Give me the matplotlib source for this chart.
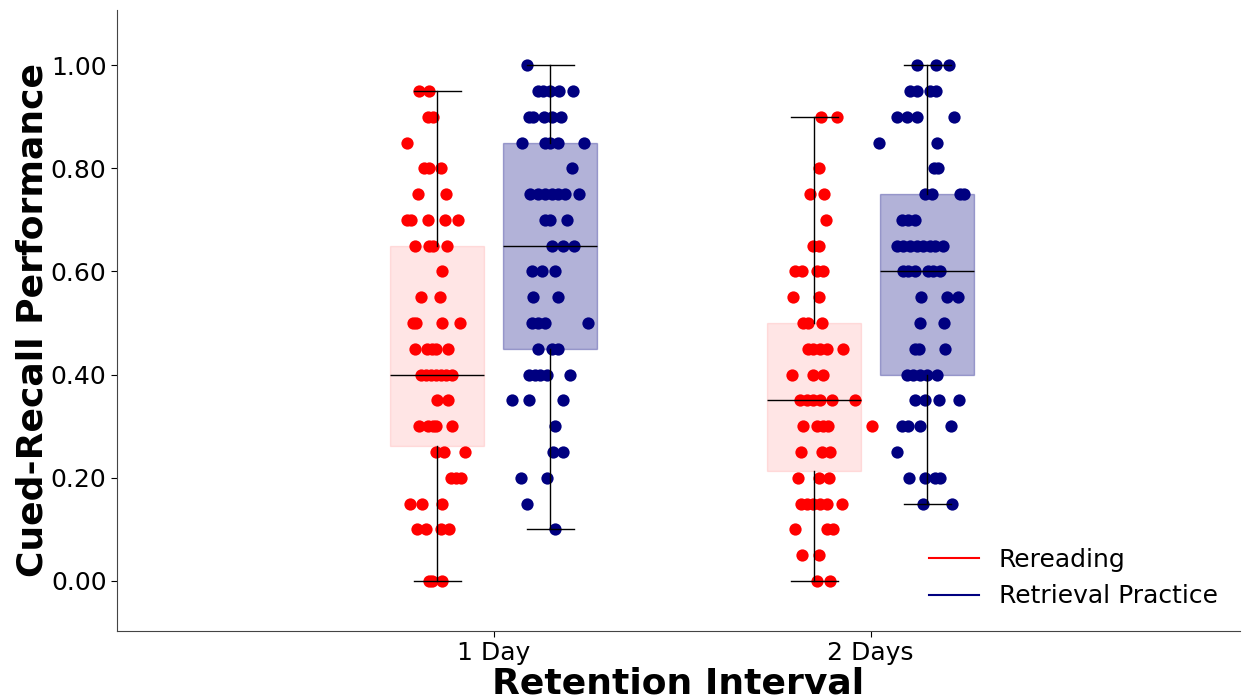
import matplotlib
matplotlib.use("Agg")
import matplotlib.pyplot as plt
from matplotlib.lines import Line2D

# ---------------- data ----------------
intervals = ["1 Day", "2 Days"]
conditions = ["Rereading", "Retrieval Practice"]

# individual scores
vals_1d_reread = ([0.95] * 2 + [0.90] * 2 + [0.85] + [0.80] * 3 + [0.75] * 2 + [0.70] * 5 + [0.65] * 4 +
                  [0.60] + [0.55] * 2 + [0.50] * 4 + [0.45] * 5 + [0.40] * 7 + [0.35] * 2 + [0.30] * 5 +
                  [0.25] * 3 + [0.20] * 3 + [0.15] * 3 + [0.10] * 4 + [0.00] * 3)
jit_1d_reread = [-0.048, -0.021, -0.024, -0.011, -0.080, -0.034, -0.021, 0.011, -0.050, 0.024,
                 -0.080, -0.069, -0.024, 0.021, 0.056, -0.058, -0.021, -0.011, 0.027, 0.013,
                 -0.042, 0.008, -0.064, -0.056, 0.013, 0.061, -0.058, -0.027, -0.013, -0.003, 0.029,
                 -0.042, -0.029, -0.016, -0.003, 0.011, 0.024, 0.040, 0.000, 0.029,
                 -0.048, -0.024, -0.011, -0.003, 0.040, -0.003, 0.019, 0.074, 0.037, 0.050, 0.064,
                 -0.072, -0.040, 0.013, -0.053, -0.029, 0.011, 0.032, -0.021, -0.013, 0.013]

vals_1d_retr = ([1.00] + [0.95] * 5 + [0.90] * 5 + [0.85] * 5 + [0.80] + [0.75] * 7 + [0.70] * 3 +
                [0.65] * 3 + [0.60] * 3 + [0.55] * 2 + [0.50] * 4 + [0.45] * 3 + [0.40] * 5 +
                [0.35] * 3 + [0.30] + [0.25] * 2 + [0.20] * 2 + [0.15] + [0.10])
jit_1d_retr = [-0.061, -0.034, -0.019, 0.000, 0.024, 0.061, -0.058, -0.045, -0.016, 0.005, 0.029,
               -0.074, -0.013, 0.000, 0.019, 0.090, 0.058, -0.053, -0.032, -0.013, 0.005, 0.021,
               0.040, 0.077, -0.013, 0.000, 0.045, 0.005, 0.034, 0.064, -0.048, -0.021, 0.013,
               -0.045, 0.021, -0.048, -0.034, -0.013, 0.101, -0.032, 0.005, 0.019,
               -0.056, -0.040, -0.027, -0.008, 0.053, -0.103, -0.056, 0.034, 0.011, 0.008, 0.034,
               -0.077, -0.008, -0.061, 0.011]

vals_2d_reread = ([0.90] * 2 + [0.80] + [0.75] * 2 + [0.70] + [0.65] * 2 + [0.60] * 4 + [0.55] * 2 +
                  [0.50] * 3 + [0.45] * 5 + [0.40] * 3 + [0.35] * 6 + [0.30] * 5 + [0.25] * 3 +
                  [0.20] * 3 + [0.15] * 6 + [0.10] * 3 + [0.05] * 2 + [0.00] * 2)
jit_2d_reread = [0.019, 0.061, 0.013, -0.011, 0.027, 0.032, -0.003, 0.013, -0.050, -0.032, 0.008, 0.024,
                 -0.056, 0.013, -0.029, -0.016, 0.021, -0.016, -0.003, 0.016, 0.034, 0.077,
                 -0.058, -0.003, 0.024, -0.037, -0.019, -0.003, 0.016, 0.048, 0.109,
                 -0.029, 0.008, 0.024, 0.037, 0.154, -0.034, 0.021, 0.042, -0.042, 0.013, 0.040,
                 -0.034, -0.019, -0.003, 0.016, 0.034, 0.074, -0.050, 0.034, 0.050, -0.032, 0.013,
                 0.008, 0.042]

vals_2d_retr = ([1.00] * 3 + [0.95] * 4 + [0.90] * 4 + [0.85] * 2 + [0.80] * 2 + [0.75] * 4 +
                [0.70] * 3 + [0.65] * 8 + [0.60] * 6 + [0.55] * 3 + [0.50] * 2 + [0.45] * 3 +
                [0.40] * 5 + [0.35] * 4 + [0.30] * 4 + [0.25] + [0.20] * 4 + [0.15] * 2)
jit_2d_retr = [-0.027, 0.024, 0.058, -0.045, -0.027, 0.008, 0.024, -0.080, -0.053, -0.027, 0.072,
               -0.127, 0.027, 0.019, 0.029, -0.005, 0.013, 0.088, 0.098, -0.066, -0.050, -0.032,
               -0.080, -0.064, -0.045, -0.027, -0.011, 0.008, 0.021, 0.042,
               -0.064, -0.050, -0.032, 0.003, 0.016, 0.034, -0.016, 0.053, 0.082, -0.019, 0.045,
               -0.032, -0.021, 0.048, -0.053, -0.037, -0.019, 0.000, 0.027,
               -0.032, -0.005, 0.032, 0.085, -0.066, -0.050, -0.019, 0.064, -0.080,
               -0.048, -0.005, 0.021, 0.034, -0.011, 0.066]

# box summary statistics
box_q1 = [0.2625, 0.45, 0.2125, 0.40]
box_med = [0.40, 0.65, 0.35, 0.60]
box_q3 = [0.65, 0.85, 0.50, 0.75]
box_lo = [0.00, 0.10, 0.00, 0.15]
box_hi = [0.95, 1.00, 0.90, 1.00]

yticks = [0.0, 0.2, 0.4, 0.6, 0.8, 1.0]

# ---------------- plot ----------------
fig = plt.figure(figsize=(12.43, 7.0), dpi=100)
ax = fig.add_axes([0.0941, 0.0986, 0.9035, 0.8871])

colors = ["red", "navy"]
face_alpha = [0.1, 0.3]
offsets = [-0.15, 0.15]
groups = [(vals_1d_reread, jit_1d_reread), (vals_1d_retr, jit_1d_retr),
          (vals_2d_reread, jit_2d_reread), (vals_2d_retr, jit_2d_retr)]

k = 0
for i, _ in enumerate(intervals):
    for j, _ in enumerate(conditions):
        pos = i + offsets[j]
        stats = [dict(med=box_med[k], q1=box_q1[k], q3=box_q3[k],
                      whislo=box_lo[k], whishi=box_hi[k], fliers=[])]
        bp = ax.bxp(stats, positions=[pos], widths=0.25, patch_artist=True,
                    showfliers=False, manage_ticks=False,
                    boxprops=dict(facecolor=colors[j], edgecolor=colors[j],
                                  alpha=face_alpha[j], linewidth=1.0),
                    medianprops=dict(color="black", linewidth=1.0),
                    whiskerprops=dict(color="black", linewidth=1.0),
                    capprops=dict(color="black", linewidth=1.0))
        for w in bp["whiskers"] + bp["caps"] + bp["medians"]:
            w.set_zorder(3)
        vals, jit = groups[k]
        ax.scatter([pos + d for d in jit], vals, s=78, color=colors[j],
                   linewidths=0, zorder=2.5)
        k += 1

ax.set_xlim(-1.0, 1.98)
ax.set_ylim(-0.097, 1.107)
ax.set_xticks([0, 1])
ax.set_xticklabels(intervals, fontsize=18)
ax.set_yticks(yticks)
ax.set_yticklabels([f"{v:.2f}" for v in yticks], fontsize=18)
ax.tick_params(axis="both", colors="black", length=4)

for side in ["top", "right"]:
    ax.spines[side].set_visible(False)
for side in ["left", "bottom"]:
    ax.spines[side].set_color("#444444")

ax.set_xlabel("Retention Interval", fontsize=26, fontweight="bold", labelpad=1)
ax.set_ylabel("Cued-Recall Performance", fontsize=26, fontweight="bold", labelpad=1)

handles = [Line2D([0], [0], color=c, lw=1.5) for c in colors]
ax.legend(handles, conditions, loc="lower right", frameon=False, fontsize=18)

fig.savefig("out.png", dpi=100)
